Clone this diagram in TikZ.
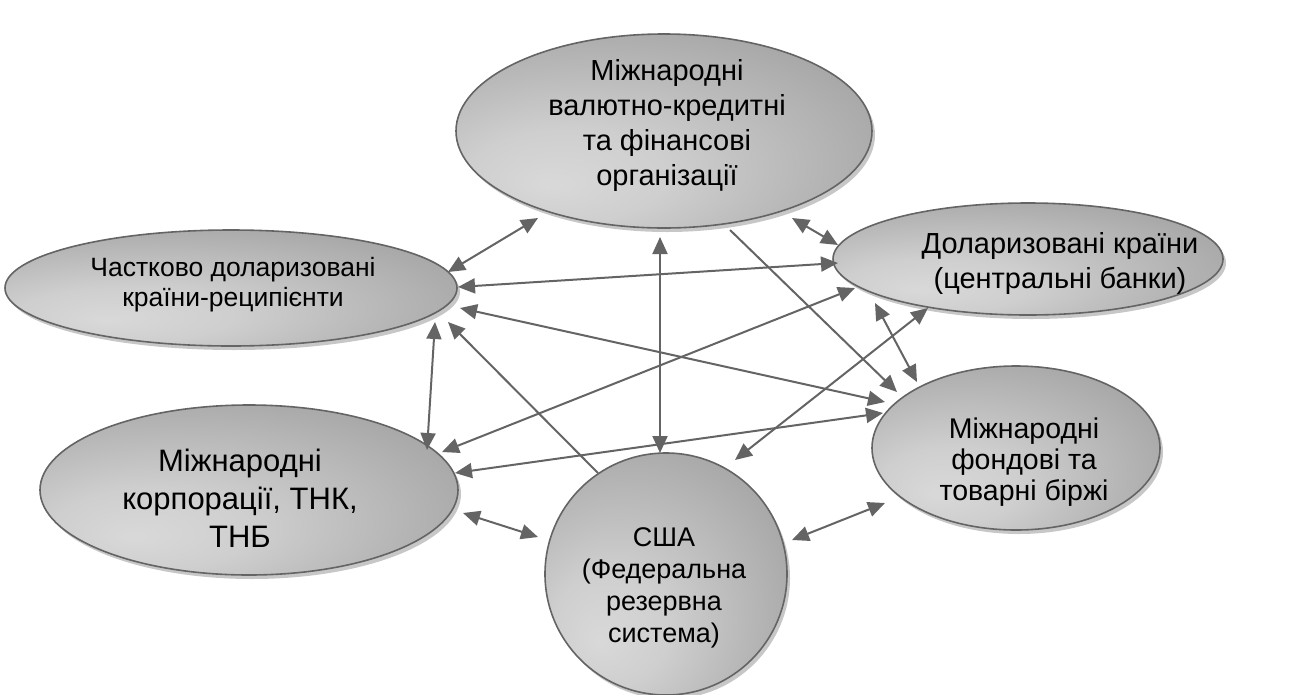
\documentclass[tikz,border=0pt]{standalone}
\usepackage{fontspec}
\setmainfont{Liberation Sans}
\usetikzlibrary{arrows.meta,shadows,shapes.geometric}
\pgfdeclareradialshading{wordgray}{\pgfpoint{-14bp}{-14bp}}{color(0bp)=(black!15); color(12bp)=(black!19); color(70bp)=(black!57)}
\definecolor{edgegray}{RGB}{100,100,100}
\definecolor{arrowgray}{RGB}{100,100,100}
\begin{document}
\begin{tikzpicture}[x=1pt,y=-1pt,
  blob/.style={ellipse, draw=edgegray, line width=1.6pt, shading=wordgray, inner sep=0pt, outer sep=0pt,
     drop shadow={shadow xshift=3pt, shadow yshift=-4pt, fill=black!22, opacity=1}},
  lbl/.style={align=center, inner sep=0pt, text=black},
  link/.style={draw=arrowgray, line width=2pt, {Triangle[length=17pt,width=15pt]}-{Triangle[length=17pt,width=15pt]}},
  oneway/.style={draw=arrowgray, line width=2pt, -{Triangle[length=17pt,width=15pt]}}]
\useasboundingbox (0,0) rectangle (1295,694);
\clip (0,0) rectangle (1295,694);

% shapes
\node[blob, minimum width=416pt, minimum height=194pt] (T) at (664,131) {};
\node[blob, minimum width=452pt, minimum height=116pt] (L1) at (231,288) {};
\node[blob, minimum width=390pt, minimum height=112pt] (R1) at (1028,259) {};
\node[blob, minimum width=288pt, minimum height=164pt] (R2) at (1016,448) {};
\node[blob, minimum width=418pt, minimum height=170pt] (L2) at (249,490) {};
\node[blob, circle, minimum size=242pt] (U) at (666,574) {};

% connectors
\draw[link] ([shift={(-126,87)}]T.center) -- ([shift={(217,-16)}]L1.center);
\draw[link] ([shift={(128,87)}]T.center) -- ([shift={(-190,-14)}]R1.center);
\draw[link] ([shift={(227,-1)}]L1.center) -- ([shift={(-190,4)}]R1.center);
\draw[link] ([shift={(-4,106)}]T.center) -- ([shift={(-6,-121)}]U.center);
\draw[oneway] ([shift={(66,99)}]T.center) -- ([shift={(-119,-56)}]R2.center);
\draw[link] ([shift={(229,20)}]L1.center) -- ([shift={(-131,-46)}]R2.center);
\draw[link] ([shift={(204,34)}]L1.center) -- ([shift={(178,-40)}]L2.center);
\draw[oneway] ([shift={(-68,-101)}]U.center) -- ([shift={(217,34)}]L1.center);
\draw[link] ([shift={(-173,29)}]R1.center) -- ([shift={(193,-38)}]L2.center);
\draw[link] ([shift={(-100,49)}]R1.center) -- ([shift={(69,-114)}]U.center);
\draw[link] ([shift={(-153,44)}]R1.center) -- ([shift={(-99,-66)}]R2.center);
\draw[link] ([shift={(-133,-35)}]R2.center) -- ([shift={(206,-17)}]L2.center);
\draw[link] ([shift={(214,23)}]L2.center) -- ([shift={(-128,-37)}]U.center);
\draw[link] ([shift={(126,-34)}]U.center) -- ([shift={(-131,55)}]R2.center);

% texts
\node[lbl, font=\fontsize{29}{35}\selectfont] (Tt) at (667,125) {Міжнародні\\валютно-кредитні\\та фінансові\\організації};
\node[lbl, font=\fontsize{26.5}{30}\selectfont] (L1t) at (233,285) {Частково доларизовані\\країни-реципієнти};
\node[lbl, font=\fontsize{29}{35}\selectfont] (R1t) at (1060,263) {Доларизовані країни\\(центральні банки)};
\node[lbl, font=\fontsize{28.5}{31}\selectfont] (R2t) at (1024,462) {Міжнародні\\фондові та\\товарні біржі};
\node[lbl, font=\fontsize{31}{38}\selectfont] (L2t) at (240,498) {Міжнародні\\корпорації, ТНК,\\ТНБ};
\node[lbl, font=\fontsize{27}{32}\selectfont] (Ut) at (664,588) {США\\(Федеральна\\резервна\\система)};
\end{tikzpicture}
\end{document}
